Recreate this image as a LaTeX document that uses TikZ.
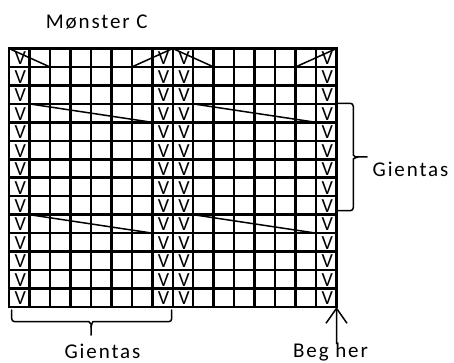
\documentclass[tikz,border=0pt]{standalone}
\usepackage{fontspec}
\setmainfont{Carlito}
\newfontfamily\spaced[LetterSpace=9]{Carlito}
\usetikzlibrary{arrows.meta}
\tikzset{
  gridline/.style={line width=2.5pt, line cap=rect},
  diag/.style={line width=1.5pt},
  bracket/.style={line width=1.5pt, line cap=round},
  lbl/.style={font=\spaced\fontsize{21}{24}\selectfont, inner sep=0pt, anchor=base},
  vmark/.style={font=\fontsize{20}{22}\selectfont, inner sep=0pt, anchor=base},
  pointer/.style={line width=1.5pt, -{Straight Barb[length=15pt,width=21pt,line width=1.5pt]}}
}
\begin{document}
\begin{tikzpicture}[x=1pt,y=-1pt]
\useasboundingbox (0,0) rectangle (454,363);
% grid
\begin{scope}[shift={(9pt,-48.5pt)}, x=20.47pt, y=-18.464pt]
  \foreach \i in {0,...,16} \draw[gridline] (\i,0) -- (\i,14);
  \foreach \j in {0,...,14} \draw[gridline] (0,\j) -- (16,\j);
  \foreach \c in {0,7,8,15}
    \foreach \r in {0,...,13}
      \node[vmark, yshift=2.2pt] (v-\c-\r) at (\c+0.55,\r+1) {V};
  % top row decrease marks
  \draw[diag] (0,0) -- (2,1);
  \draw[diag] (6,1) -- (8,0);
  \draw[diag] (8,0) -- (10,1);
  \draw[diag] (14,1) -- (16,0);
  % long slanted lines
  \draw[diag] (1,3) -- (7,4);
  \draw[diag] (9,3) -- (15,4);
  \draw[diag] (1,9) -- (7,10);
  \draw[diag] (9,9) -- (15,10);
  \coordinate (tip) at (16,14);
\end{scope}
% right brace
\coordinate (rbt) at (337,103.3);
\coordinate (rbb) at (337,210.7);
\coordinate (rbm) at (358,157);
\draw[bracket, rounded corners=3pt] (rbt) -| (353.3,152) to[out=-90,in=180] (rbm) -- (367,157);
\draw[bracket, rounded corners=3pt] (rbb) -| (353.3,162) to[out=90,in=180] (rbm);
% bottom brace
\coordinate (bbl) at (11.7,310);
\coordinate (bbr) at (171.7,310);
\coordinate (bbm) at (91,327);
\draw[bracket, rounded corners=3pt] (bbl) |- (86,321.7) to[out=0,in=90] (bbm) -- (91,335);
\draw[bracket, rounded corners=3pt] (bbr) |- (96,321.7) to[out=180,in=90] (bbm);
% labels
\node[lbl] (title) at (96.7,28.3) {Mønster C};
\node[lbl] (rep1) at (410.5,176) {Gientas};
\node[lbl] (rep2) at (102.5,358.5) {Gientas};
\node[lbl] (start) at (330.5,357.5) {Beg her};
\coordinate (tail) at (336.5,344);
\draw[pointer] (tail) -- (tip);
\end{tikzpicture}
\end{document}
